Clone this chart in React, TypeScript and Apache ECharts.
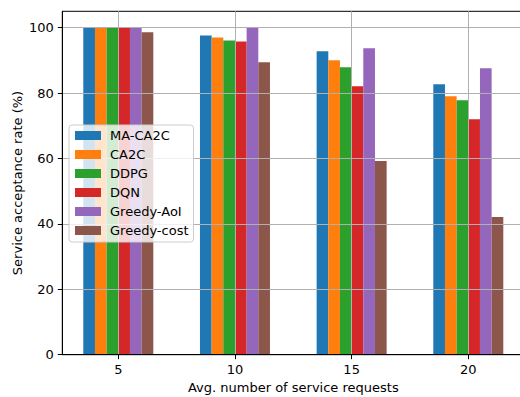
import React, { useEffect, useRef } from "react";
import * as echarts from "echarts";

// Average number of service requests (group positions on the x axis)
const requestCounts = [5, 10, 15, 20];

// Service acceptance rate (%) per method
const methodNames = ["MA-CA2C", "CA2C", "DDPG", "DQN", "Greedy-AoI", "Greedy-cost"];
const maCa2c = [100, 97.6, 92.8, 82.7];
const ca2c = [100, 97.0, 90.0, 79.0];
const ddpg = [100, 96.1, 87.9, 77.8];
const dqn = [100, 95.8, 82.1, 72.0];
const greedyAoi = [100, 100, 93.7, 87.6];
const greedyCost = [98.6, 89.4, 59.2, 42.1];

const methodValues = [maCa2c, ca2c, ddpg, dqn, greedyAoi, greedyCost];
const methodColors = ["#1f77b4", "#ff7f0e", "#2ca02c", "#d62728", "#9467bd", "#8c564b"];

const xTicks = [5, 10, 15, 20];
const yTicks = [0, 20, 40, 60, 80, 100];

const BAR_WIDTH = 0.5;
const FONT = "DejaVu Sans";
const FS = 13;

export default function App() {
  const ref = useRef<HTMLDivElement>(null);

  useEffect(() => {
    if (!ref.current) return;
    const chart = echarts.init(ref.current, null, { renderer: "svg" });

    const series = methodNames.map((name, i) => {
      const offset = (i - (methodNames.length - 1) / 2) * BAR_WIDTH;
      return {
        name,
        type: "custom",
        itemStyle: { color: methodColors[i] },
        encode: { x: 0, y: 1 },
        data: requestCounts.map((x, j) => [x, methodValues[i][j]]),
        renderItem: (_params: any, api: any) => {
          const cx = api.value(0) + offset;
          const p0 = api.coord([cx - BAR_WIDTH / 2, api.value(1)]);
          const p1 = api.coord([cx + BAR_WIDTH / 2, 0]);
          return {
            type: "rect",
            shape: { x: p0[0], y: p0[1], width: p1[0] - p0[0], height: p1[1] - p0[1] },
            style: { fill: api.visual("color") },
          };
        },
      };
    });

    chart.setOption({
      animation: false,
      textStyle: { fontFamily: FONT },
      grid: {
        left: 62.3,
        top: 11.3,
        right: -4.3,
        bottom: 42.3,
        show: true,
        borderColor: "#000",
        borderWidth: 1,
        backgroundColor: "transparent",
        outerBoundsMode: "none",
      },
      legend: {
        orient: "vertical",
        left: 69,
        top: 125,
        z: 10,
        icon: "rect",
        itemWidth: 26,
        itemHeight: 9,
        itemGap: 6,
        padding: [4, 5, 5, 6],
        backgroundColor: "rgba(255,255,255,0.8)",
        borderColor: "#cccccc",
        borderWidth: 1,
        borderRadius: 3,
        selectedMode: false,
        textStyle: {
          fontFamily: FONT,
          fontSize: FS,
          color: "#000",
          lineHeight: 13,
          padding: [0, 0, 0, 4],
        },
        data: methodNames,
      },
      xAxis: {
        type: "value",
        min: 2.6,
        max: 22.4,
        splitNumber: 4,
        z: 3,
        name: "Avg. number of service requests",
        nameLocation: "middle",
        nameGap: 26.5,
        nameMoveOverlap: false,
        nameTextStyle: { fontFamily: FONT, fontSize: FS, color: "#000" },
        axisLine: { lineStyle: { color: "#000", width: 1 } },
        axisTick: { show: true, length: 4.5, lineStyle: { color: "#000" }, customValues: xTicks },
        axisLabel: {
          fontFamily: FONT,
          fontSize: FS,
          color: "#000",
          margin: 8,
          customValues: xTicks,
        },
        splitLine: {
          show: true,
          showMinLine: true,
          showMaxLine: true,
          lineStyle: { color: "#b0b0b0", width: 1 },
        },
      },
      yAxis: {
        type: "value",
        min: 0,
        max: 105,
        interval: 20,
        z: 3,
        name: "Service acceptance rate (%)",
        nameLocation: "middle",
        nameGap: 38,
        nameMoveOverlap: false,
        nameTextStyle: { fontFamily: FONT, fontSize: FS, color: "#000" },
        axisLine: { show: true, lineStyle: { color: "#000", width: 1 } },
        axisTick: { show: true, length: 4.5, lineStyle: { color: "#000" }, customValues: yTicks },
        axisLabel: {
          fontFamily: FONT,
          fontSize: FS,
          color: "#000",
          margin: 8.5,
          customValues: yTicks,
        },
        splitLine: {
          show: true,
          showMinLine: true,
          showMaxLine: true,
          lineStyle: { color: "#b0b0b0", width: 1 },
        },
      },
      series,
    });

    return () => chart.dispose();
  }, []);

  return (
    <div
      ref={ref}
      style={{ position: "absolute", left: 0, top: 0, width: 520, height: 397, background: "#fff" }}
    />
  );
}
